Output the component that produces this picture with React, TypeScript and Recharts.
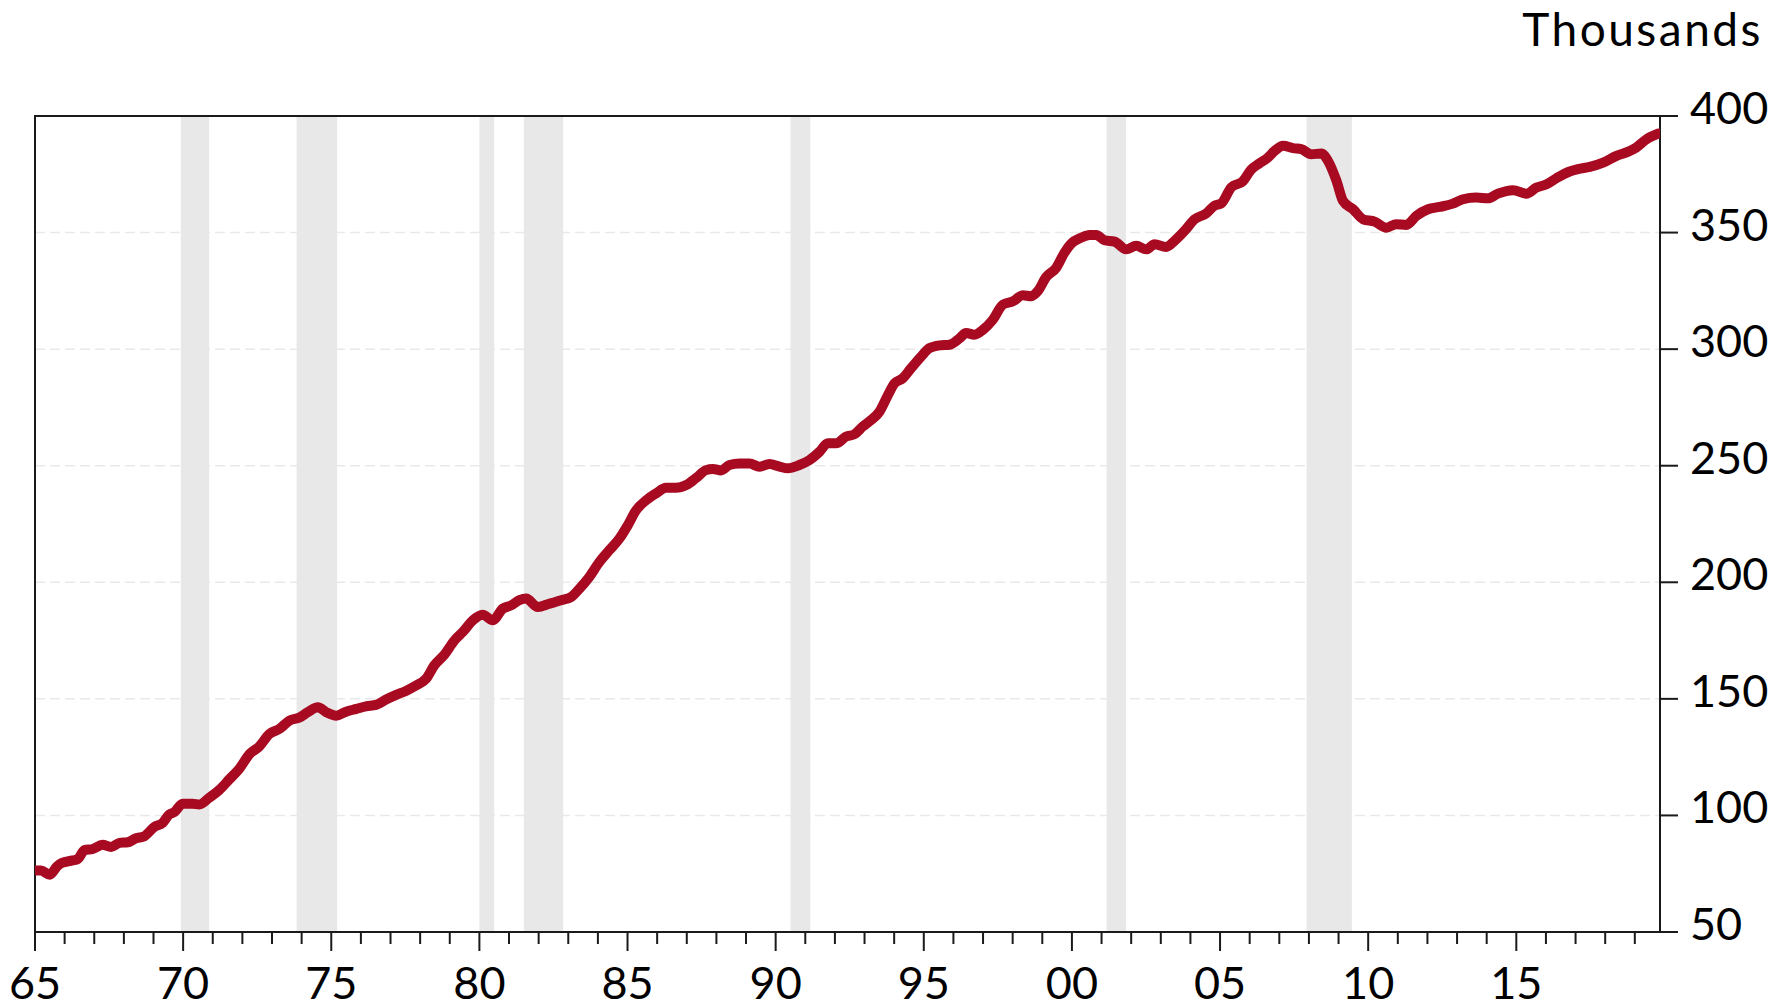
import React from 'react';
import { LineChart, Line, XAxis, YAxis, CartesianGrid, ReferenceArea } from 'recharts';

const FONT = 'Lato, "Open Sans", sans-serif';

const years = [
  1965.0, 1965.2, 1965.5, 1965.75, 1965.9, 1966.27, 1966.44, 1966.67, 1966.95, 1967.28,
  1967.57, 1967.85, 1968.13, 1968.41, 1968.69, 1969.03, 1969.31, 1969.53, 1969.7, 1969.98,
  1970.32, 1970.55, 1970.88, 1971.22, 1971.56, 1971.9, 1972.24, 1972.57, 1972.91, 1973.25,
  1973.59, 1973.93, 1974.21, 1974.55, 1974.83, 1975.17, 1975.5, 1975.85, 1976.17, 1976.51,
  1976.85, 1977.19, 1977.52, 1977.86, 1978.2, 1978.48, 1978.82, 1979.16, 1979.44, 1979.78,
  1980.11, 1980.45, 1980.79, 1981.07, 1981.35, 1981.58, 1981.97, 1982.36, 1982.76, 1983.1,
  1983.38, 1983.71, 1984.05, 1984.39, 1984.73, 1985.01, 1985.29, 1985.63, 1985.96, 1986.3,
  1986.64, 1986.98, 1987.32, 1987.65, 1987.88, 1988.16, 1988.44, 1988.78, 1989.12, 1989.45,
  1989.79, 1990.13, 1990.41, 1990.8, 1991.14, 1991.48, 1991.76, 1992.04, 1992.38, 1992.66,
  1992.94, 1993.17, 1993.5, 1993.79, 1994.01, 1994.29, 1994.57, 1994.91, 1995.19, 1995.53,
  1995.87, 1996.21, 1996.43, 1996.71, 1997.0, 1997.33, 1997.67, 1998.01, 1998.34, 1998.63,
  1998.85, 1999.13, 1999.47, 1999.75, 1999.98, 2000.31, 2000.6, 2000.82, 2001.1, 2001.44,
  2001.83, 2002.17, 2002.51, 2002.79, 2003.18, 2003.46, 2003.8, 2004.14, 2004.53, 2004.81,
  2005.04, 2005.38, 2005.77, 2006.05, 2006.33, 2006.6, 2006.84, 2007.13, 2007.46, 2007.74,
  2008.08, 2008.42, 2008.64, 2008.93, 2009.15, 2009.49, 2009.83, 2010.22, 2010.61, 2010.95,
  2011.29, 2011.63, 2012.02, 2012.41, 2012.86, 2013.2, 2013.65, 2014.05, 2014.38, 2014.89,
  2015.34, 2015.68, 2016.02, 2016.35, 2016.8, 2017.08, 2017.48, 2017.93, 2018.38, 2018.83,
  2019.05, 2019.39, 2019.8,
];

const values = [
  76.4, 76.4, 74.6, 78.2, 79.6, 80.7, 81.3, 85.1, 85.6, 87.4,
  86.5, 88.2, 88.5, 90.2, 91.1, 95.1, 96.8, 100.4, 101.4, 105.0,
  105.0, 104.7, 107.6, 110.9, 115.5, 120.1, 126.3, 129.6, 134.9, 137.1,
  140.7, 142.0, 144.3, 146.4, 144.3, 142.8, 144.5, 145.7, 146.8, 147.4,
  149.7, 151.7, 153.4, 155.7, 158.6, 164.4, 169.0, 175.1, 178.7, 183.7,
  186.1, 183.7, 188.7, 190.1, 192.3, 193.0, 189.4, 190.8, 192.3, 193.7,
  197.3, 202.3, 208.7, 213.8, 218.8, 224.5, 230.9, 235.2, 238.1, 240.5,
  240.5, 241.7, 244.8, 248.1, 248.6, 248.0, 250.3, 250.9, 250.9, 249.6,
  250.7, 249.6, 248.9, 250.3, 252.4, 256.0, 259.6, 259.6, 262.5, 263.5,
  266.8, 269.1, 273.1, 280.3, 285.3, 287.5, 291.8, 296.8, 300.4, 301.6,
  301.9, 304.7, 306.9, 306.2, 308.3, 312.6, 319.1, 320.5, 323.1, 322.7,
  324.9, 330.9, 334.9, 341.4, 345.3, 347.8, 349.0, 349.0, 346.7, 346.1,
  342.8, 344.3, 342.8, 345.0, 343.8, 346.4, 350.7, 355.7, 358.2, 361.5,
  362.5, 369.4, 372.0, 377.0, 379.7, 382.0, 385.0, 387.2, 386.2, 385.8,
  383.6, 383.9, 380.8, 372.2, 363.6, 360.0, 355.7, 354.7, 352.1, 353.6,
  353.3, 357.2, 360.0, 361.0, 362.4, 364.3, 365.0, 364.7, 366.7, 368.2,
  366.7, 369.3, 370.7, 373.3, 376.2, 377.2, 378.2, 380.0, 382.9, 385.0,
  386.5, 390.0, 392.5,
];

const recessionStarts = [1969.92, 1973.83, 1980.0, 1981.5, 1990.5, 2001.17, 2007.92];
const recessionEnds = [1970.88, 1975.2, 1980.5, 1982.83, 1991.17, 2001.83, 2009.45];

const yTicks = [50, 100, 150, 200, 250, 300, 350, 400];
const xTicks: number[] = [];
for (let yr = 1965; yr <= 2019; yr++) xTicks.push(yr);

const X_MIN = 1965;
const X_MAX = 2019.85;

const data = years.map((yr, i) => ({ year: yr, v: values[i] }));

const XTick = (props: any) => {
  const { x, y, payload } = props;
  const yr = Number(payload.value);
  const major = yr % 5 === 0;
  const label = String(yr % 100).padStart(2, '0');
  return (
    <g>
      <line x1={x} x2={x} y1={y} y2={y + (major ? 19 : 12)} stroke="#1a1a1a" strokeWidth={2} />
      {major && (
        <text x={x} y={y + 67} textAnchor="middle" fontFamily={FONT} fontSize={45} fill="#000">
          {label}
        </text>
      )}
    </g>
  );
};

const YTick = (props: any) => {
  const { x, y, payload } = props;
  return (
    <g>
      <line x1={x} x2={x + 18} y1={y} y2={y} stroke="#1a1a1a" strokeWidth={2} />
      <text x={x + 30} y={y + 8} textAnchor="start" fontFamily={FONT} fontSize={45} fill="#000">
        {payload.value}
      </text>
    </g>
  );
};

export default function App() {
  return (
    <div style={{ position: 'absolute', left: 0, top: 0, width: 1773, height: 1004, background: '#fff' }}>
      <LineChart
        width={1773}
        height={1004}
        data={data}
        margin={{ top: 116, right: 0, bottom: 0, left: 35 }}
      >
        {recessionStarts.map((s, i) => (
          <ReferenceArea
            key={'r' + i}
            x1={s}
            x2={recessionEnds[i]}
            y1={50}
            y2={400}
            fill="#e8e8e8"
            fillOpacity={1}
            stroke="none"
          />
        ))}
        <CartesianGrid vertical={false} stroke="#e9e9e9" strokeDasharray="10 5" strokeWidth={1.5} />
        <XAxis
          dataKey="year"
          type="number"
          domain={[X_MIN, X_MAX]}
          ticks={xTicks}
          interval={0}
          allowDataOverflow
          axisLine={false}
          tickLine={false}
          tickSize={0}
          tickMargin={0}
          height={72}
          tick={<XTick />}
        />
        <YAxis
          orientation="right"
          type="number"
          domain={[50, 400]}
          ticks={yTicks}
          interval={0}
          axisLine={false}
          tickLine={false}
          tickSize={0}
          tickMargin={0}
          width={113}
          tick={<YTick />}
        />
        <Line
          type="monotone"
          dataKey="v"
          stroke="#a80a22"
          strokeWidth={10}
          dot={false}
          isAnimationActive={false}
          strokeLinejoin="round"
          strokeLinecap="round"
        />
        <ReferenceArea
          x1={X_MIN}
          x2={X_MAX}
          y1={50}
          y2={400}
          fill="none"
          fillOpacity={0}
          stroke="#1a1a1a"
          strokeWidth={2}
        />
      </LineChart>
      <svg
        width={1773}
        height={1004}
        style={{ position: 'absolute', left: 0, top: 0, pointerEvents: 'none' }}
      >
        <text x={1763} y={46} textAnchor="end" fontFamily={FONT} fontSize={46} letterSpacing={2.5} fill="#000">
          Thousands
        </text>
      </svg>
    </div>
  );
}
